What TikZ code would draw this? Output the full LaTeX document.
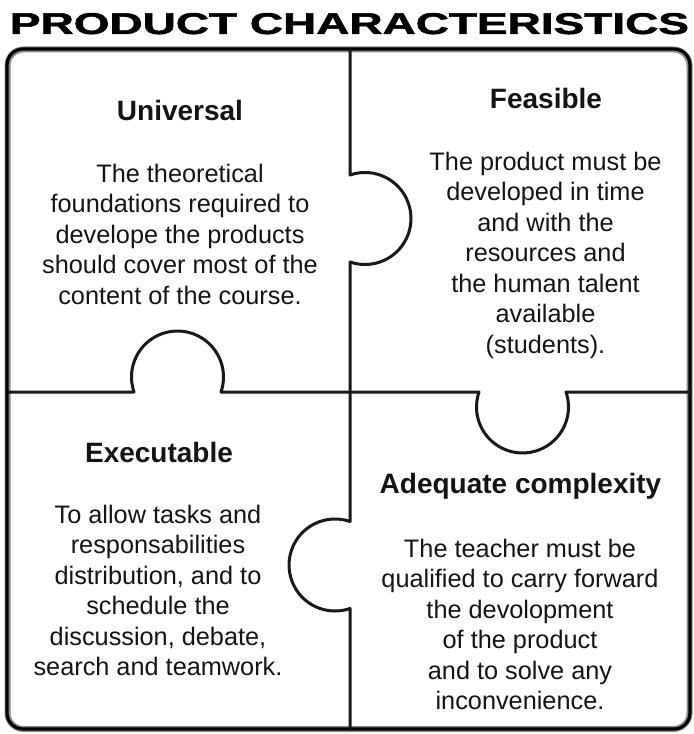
\documentclass[tikz,border=0pt]{standalone}
\usepackage{fontspec}
\usepackage{graphicx}
\setmainfont{Liberation Sans}
\newfontfamily\titlefont{Liberation Sans Bold}[FakeBold=1.5]
\begin{document}
\begin{tikzpicture}[x=1bp,y=-1bp,
  body/.style={font=\fontsize{25.3bp}{30.5bp}\selectfont, align=center, inner sep=0pt, anchor=north, text=black!92},
  head/.style={font=\fontsize{28bp}{33bp}\selectfont\bfseries, inner sep=0pt, anchor=base, text=black!92},
  divider/.style={line width=3bp, line join=round, draw=black!90},
  frameshadow/.style={line width=6bp, draw=black!45, rounded corners=16bp},
  frameline/.style={line width=3.2bp, draw=black, rounded corners=16bp}]
\useasboundingbox (0,0) rectangle (694,734);

% title
\node[inner sep=0pt, anchor=base] (title) at (349.5,34)
  {\resizebox{679bp}{21bp}{\titlefont PRODUCT CHARACTERISTICS}};

% outer frame
\draw[frameshadow] (7.5,49.5) rectangle (689.5,729);
\draw[frameline] (7,49) rectangle (690,729);

% vertical divider with two tabs
\draw[divider] (350,49) -- (350,175)
  arc[start angle=-109, end angle=109, radius=46]
  -- (350,521.5)
  arc[start angle=-71, end angle=-289, radius=46]
  -- (350,729);

% horizontal divider with two tabs
\draw[divider] (7,392) -- (134,392)
  arc[start angle=161, end angle=379, radius=46]
  -- (479,392)
  arc[start angle=199, end angle=-19, radius=46]
  -- (690,392);

% top-left
\node[head] (h1) at (180,121) {Universal};
\node[body] (b1) at (180,163.6) {The theoretical\\foundations required to\\develope the products\\should cover most of the\\content of the course.};

% top-right
\node[head] (h2) at (546,109) {Feasible};
\node[body] (b2) at (545.5,151.6) {The product must be\\developed in time\\and with the\\resources and\\the human talent\\available\\(students).};

% bottom-left
\node[head] (h3) at (159,462) {Executable};
\node[body] (b3) at (158,504.6) {To allow tasks and\\responsabilities\\distribution, and to\\schedule the\\discussion, debate,\\search and teamwork.};

% bottom-right
\node[head] (h4) at (520.5,493) {Adequate complexity};
\node[body] (b4) at (520,538.6) {The teacher must be\\qualified to carry forward\\the devolopment\\of the product\\and to solve any\\inconvenience.};
\end{tikzpicture}
\end{document}
